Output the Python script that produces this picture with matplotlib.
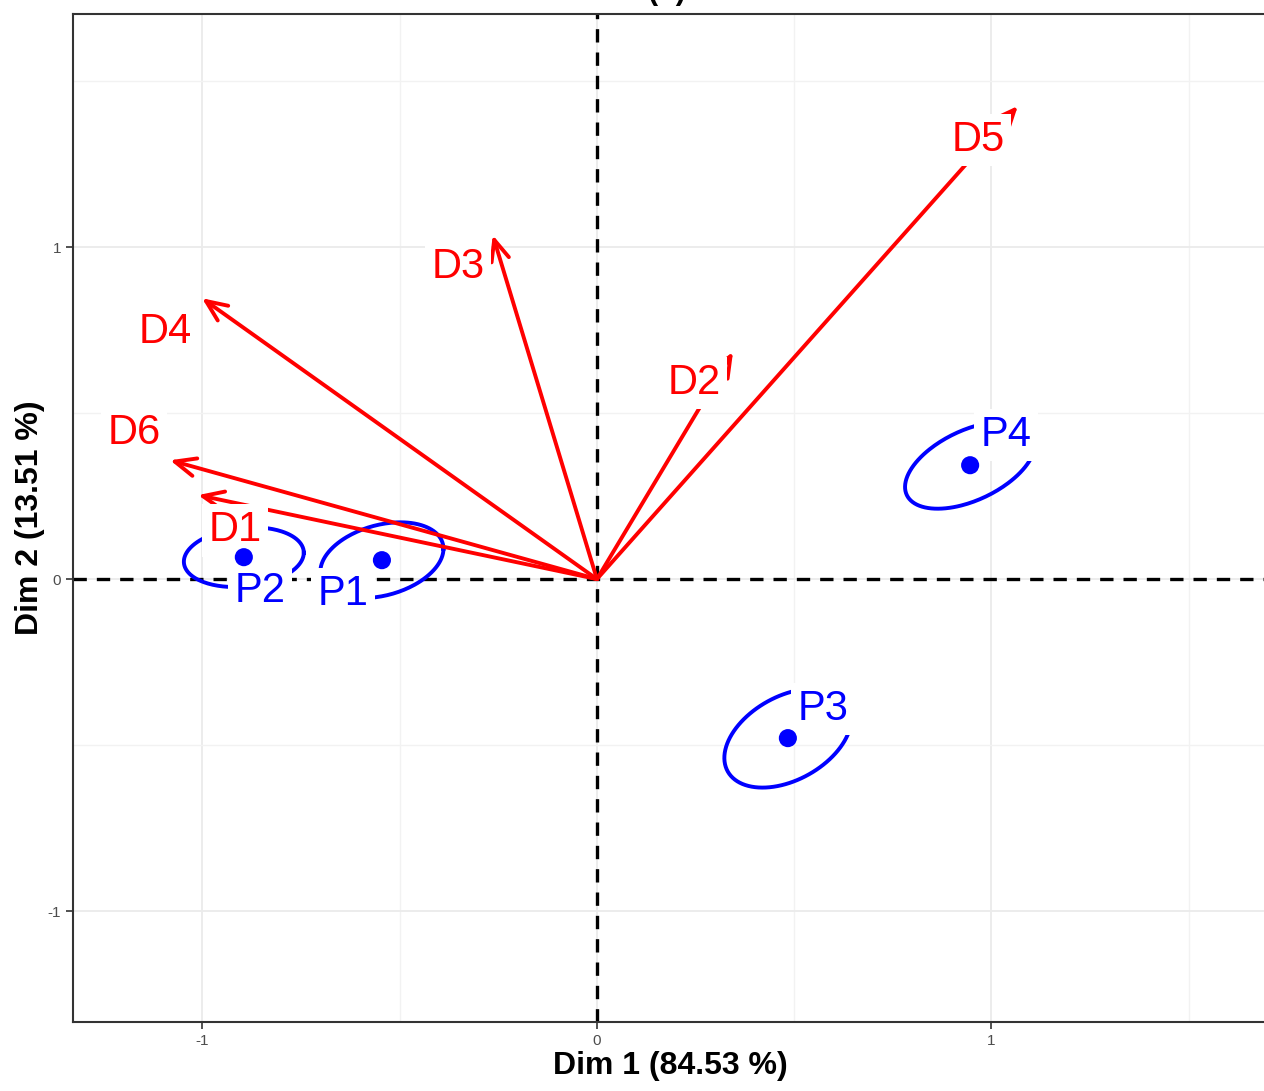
import numpy as np
import matplotlib.pyplot as plt
from matplotlib.ticker import MultipleLocator

plt.rcParams['font.family'] = ['Liberation Sans', 'DejaVu Sans']
plt.rcParams['axes.unicode_minus'] = False

# variable arrows (Dim 1, Dim 2 coordinates)
var_names = ["D1", "D2", "D3", "D4", "D5", "D6"]
var_x = [-1.011, 0.345, -0.264, -1.001, 1.067, -1.082]
var_y = [0.253, 0.684, 1.036, 0.846, 1.425, 0.358]

# individuals and their confidence ellipses (sd along each axis, correlation)
ind_names = ["P1", "P2", "P3", "P4"]
ind_x = [-0.545, -0.895, 0.484, 0.946]
ind_y = [0.057, 0.066, -0.479, 0.343]
ell_sx = [0.156, 0.152, 0.161, 0.165]
ell_sy = [0.114, 0.090, 0.149, 0.131]
ell_rho = [0.30, 0.15, 0.40, 0.50]

# label offsets from the mark they describe
var_lab_off = {"D1": (0.093, -0.106), "D2": (-0.099, -0.094), "D3": (-0.088, -0.096),
               "D4": (-0.092, -0.102), "D5": (-0.101, -0.103), "D6": (-0.092, 0.082)}
ind_lab_off = {"P1": (-0.099, -0.102), "P2": (0.041, -0.102), "P3": (0.089, 0.087),
               "P4": (0.091, 0.091)}

RED = "#FF0000"
BLUE = "#0000FF"

fig = plt.figure(figsize=(12.64, 10.91), dpi=100)
ax = fig.add_axes([73 / 1264, 69 / 1091, 1195 / 1264, 1008 / 1091])

ax.set_xlim(-1.328, 1.701)
ax.set_ylim(-1.334, 1.702)

ax.xaxis.set_major_locator(MultipleLocator(1))
ax.yaxis.set_major_locator(MultipleLocator(1))
ax.xaxis.set_minor_locator(MultipleLocator(0.5))
ax.yaxis.set_minor_locator(MultipleLocator(0.5))
ax.grid(which="major", color="#EBEBEB", lw=1.3, zorder=0)
ax.grid(which="minor", color="#F2F2F2", lw=1.0, zorder=0)
ax.set_axisbelow(True)
ax.tick_params(which="minor", length=0)
ax.tick_params(which="major", length=5, width=1.2, color="#333333",
               labelsize=11, labelcolor="#4D4D4D")
for s in ax.spines.values():
    s.set_color("#333333")
    s.set_linewidth(1.5)

ax.axhline(0, color="black", ls=(0, (4, 3)), lw=2.4, zorder=1)
ax.axvline(0, color="black", ls=(0, (4, 3)), lw=2.4, zorder=1)

bbox = dict(boxstyle="square,pad=0.15", fc="white", ec="none")

# arrows for the variables
for name, x, y in zip(var_names, var_x, var_y):
    ax.annotate("", xy=(x, y), xytext=(0, 0),
                arrowprops=dict(arrowstyle="->,head_length=1.5,head_width=0.65",
                                color=RED, lw=2.8, shrinkA=0, shrinkB=0),
                zorder=3)
    dx, dy = var_lab_off[name]
    ax.text(x + dx, y + dy, name, color=RED, fontsize=30, ha="center",
            va="center", bbox=bbox, zorder=4)

# individuals with ellipses
t = np.linspace(0, 2 * np.pi, 200)
for name, x, y, sx, sy, r in zip(ind_names, ind_x, ind_y, ell_sx, ell_sy, ell_rho):
    ex = x + sx * np.cos(t)
    ey = y + sy * (r * np.cos(t) + np.sqrt(1 - r ** 2) * np.sin(t))
    ax.plot(ex, ey, color=BLUE, lw=2.8, zorder=2)
    ax.scatter([x], [y], s=170, color=BLUE, zorder=5, edgecolors="none")
    dx, dy = ind_lab_off[name]
    ax.text(x + dx, y + dy, name, color=BLUE, fontsize=30, ha="center",
            va="center", bbox=bbox, zorder=4)

ax.set_xlabel("Dim 1 (84.53 %)", fontsize=23, fontweight="bold", labelpad=2)
ax.set_ylabel("Dim 2 (13.51 %)", fontsize=23, fontweight="bold", labelpad=2)

# panel title sits mostly above the top edge
fig.text(0.528, 1.0 + 1 / 1091, "(b)", fontsize=22, fontweight="bold",
         ha="center", va="baseline")

fig.savefig("out.png", dpi=100)
